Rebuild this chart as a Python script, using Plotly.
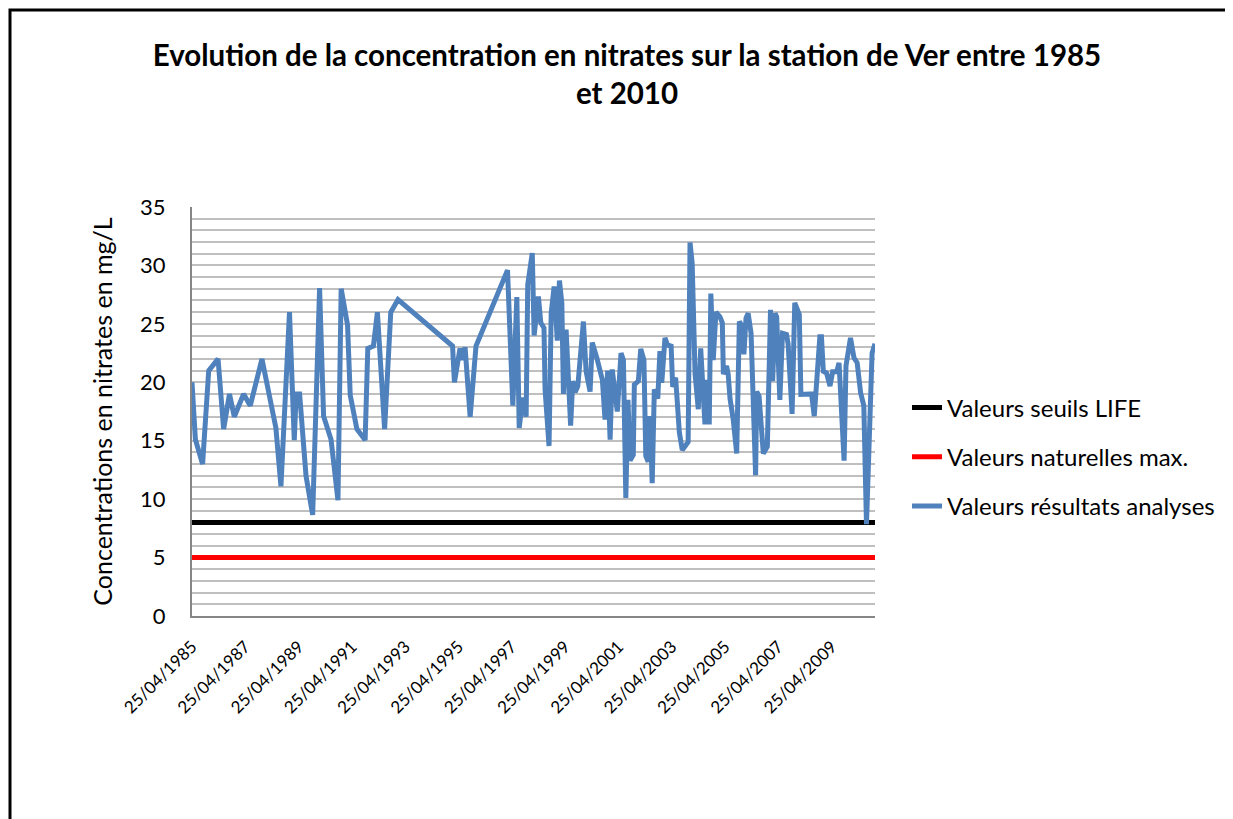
import pandas as pd
import plotly.graph_objects as go

# ---- data (decimal years, nitrate concentration mg/L) ----
sample_years = [
    1985.313, 1985.44, 1985.71, 1985.94, 1986.29, 1986.50, 1986.72, 1986.90, 1987.25, 1987.50,
    1987.94, 1988.46, 1988.65, 1988.97, 1989.15, 1989.22, 1989.35, 1989.59, 1989.84, 1990.10,
    1990.25, 1990.53, 1990.79, 1990.91, 1991.15, 1991.25, 1991.50, 1991.81, 1991.91, 1992.12,
    1992.27, 1992.54, 1992.77, 1993.04, 1995.09, 1995.16, 1995.37, 1995.46, 1995.56, 1995.75,
    1995.97, 1997.15, 1997.35, 1997.50, 1997.59, 1997.72, 1997.85, 1997.91, 1998.08, 1998.15,
    1998.31, 1998.40, 1998.52, 1998.56, 1998.71, 1998.79, 1998.90, 1999.02, 1999.10, 1999.19,
    1999.25, 1999.35, 1999.52, 1999.60, 1999.69, 1999.79, 2000.00, 2000.10, 2000.25, 2000.33,
    2000.50, 2000.71, 2000.81, 2000.91, 2001.00, 2001.08, 2001.27, 2001.41, 2001.50, 2001.59,
    2001.67, 2001.75, 2001.87, 2001.91, 2002.06, 2002.15, 2002.27, 2002.34, 2002.43, 2002.50,
    2002.58, 2002.66, 2002.79, 2002.87, 2002.94, 2003.06, 2003.15, 2003.29, 2003.35, 2003.46,
    2003.60, 2003.71, 2003.84, 2003.93, 2004.00, 2004.08, 2004.19, 2004.31, 2004.40, 2004.50,
    2004.56, 2004.65, 2004.72, 2004.78, 2004.87, 2004.97, 2005.12, 2005.21, 2005.25, 2005.37,
    2005.43, 2005.50, 2005.62, 2005.75, 2005.85, 2005.94, 2006.02, 2006.10, 2006.18, 2006.29,
    2006.46, 2006.50, 2006.59, 2006.75, 2006.90, 2007.02, 2007.10, 2007.19, 2007.25, 2007.37,
    2007.47, 2007.62, 2007.68, 2007.83, 2007.93, 2008.10, 2008.16, 2008.56, 2008.66, 2008.87,
    2008.93, 2009.00, 2009.12, 2009.25, 2009.35, 2009.50, 2009.59, 2009.78, 2009.85, 2010.02,
    2010.15, 2010.27, 2010.40, 2010.52, 2010.62, 2010.83, 2010.94,
]
nitrates = [
    20.0, 15.1, 13.0, 21.0, 22.0, 16.0, 19.0, 17.05, 19.0, 18.0,
    22.0, 16.1, 11.1, 26.0, 15.05, 19.0, 19.0, 12.0, 8.65, 28.07,
    17.1, 15.1, 9.9, 28.0, 24.9, 18.9, 16.0, 15.05, 22.9, 23.1,
    26.0, 16.0, 26.0, 27.07, 23.1, 20.0, 22.9, 21.9, 23.0, 17.05,
    23.1, 29.6, 18.0, 27.3, 16.1, 18.7, 17.05, 28.35, 31.05, 24.0,
    27.35, 25.1, 24.65, 19.4, 14.55, 25.9, 28.2, 23.57, 28.7, 26.8,
    19.0, 24.5, 16.3, 20.1, 19.15, 19.67, 25.2, 20.95, 19.2, 23.4,
    22.1, 20.2, 16.8, 21.0, 15.1, 21.1, 17.5, 22.5, 21.9, 10.1,
    18.5, 13.3, 13.8, 19.8, 20.1, 22.86, 21.9, 13.7, 13.2, 17.1,
    11.36, 19.4, 18.6, 22.66, 19.96, 23.8, 23.2, 23.1, 19.6, 20.4,
    15.7, 14.2, 14.6, 14.9, 31.96, 30.2, 20.7, 17.7, 22.9, 18.8,
    16.4, 20.2, 16.4, 27.6, 21.9, 26.0, 25.6, 25.1, 20.7, 21.4,
    20.7, 18.6, 16.8, 13.9, 25.2, 24.85, 22.4, 25.5, 25.9, 24.2,
    12.04, 19.2, 18.8, 13.9, 14.5, 26.2, 20.1, 25.9, 25.6, 18.5,
    24.2, 24.1, 23.3, 17.3, 26.8, 25.8, 18.96, 19.0, 17.1, 23.9,
    23.9, 20.95, 20.8, 19.67, 20.9, 20.9, 21.67, 13.3, 21.4, 23.8,
    22.1, 21.67, 19.1, 18.0, 7.86, 22.5, 23.3,
]
seuil_life = 8
naturelle_max = 5
tick_years = list(range(1985, 2011, 2))
tick_labels = [f"25/04/{y}" for y in tick_years]

series_names = ["Valeurs seuils LIFE", "Valeurs naturelles max.", "Valeurs résultats analyses"]
title_text = "Evolution de la concentration en nitrates sur la station de Ver entre 1985<br>et 2010"
y_title = "Concentrations en nitrates en mg/L"


def to_date(t):
    y = int(t)
    start = pd.Timestamp(year=y, month=1, day=1)
    end = pd.Timestamp(year=y + 1, month=1, day=1)
    return start + (t - y) * (end - start)


dates = [to_date(t) for t in sample_years]
dates[0] = pd.Timestamp("1985-04-25")
d0, d1 = dates[0], dates[-1]

FONT = "Lato, 'Open Sans', sans-serif"
BLUE = "#4F81BD"

fig = go.Figure()
fig.add_trace(go.Scatter(x=[d0, d1], y=[seuil_life, seuil_life], mode="lines",
                         line=dict(color="black", width=5), name=series_names[0],
                         legendgroup="g0"))
fig.add_trace(go.Scatter(x=[d0, d1], y=[naturelle_max, naturelle_max], mode="lines",
                         line=dict(color="#FF0000", width=5), name=series_names[1],
                         legendgroup="g1"))
fig.add_trace(go.Scatter(x=dates, y=nitrates, mode="lines",
                         line=dict(color=BLUE, width=5), name=series_names[2],
                         legendgroup="g2"))

# page body offset of the browser (8px) is compensated
OFF = 8
W, H = 1233, 819
L = 192 - OFF
T = 207 - OFF
R = W - (875 - OFF)
B = H - (616 - OFF)
pw, ph = W - L - R, H - T - B


def px_x(x):  # reference pixel -> paper x
    return (x - OFF - L) / pw


def px_y(y):  # reference pixel -> paper y
    return (H - B - (y - OFF)) / ph


fig.update_layout(
    width=W, height=H,
    margin=dict(l=L, r=R, t=T, b=B, pad=0),
    paper_bgcolor="white", plot_bgcolor="white",
    font=dict(family=FONT, color="black"),
    title=dict(text=f"<b>{title_text}</b>", x=(627 - OFF) / W, xanchor="center",
               y=1 - (66 - OFF) / H, yanchor="middle", yref="container",
               font=dict(size=29.5, family=FONT, color="black")),
    xaxis=dict(type="date", range=[d0, d1], tickmode="array",
               tickvals=[pd.Timestamp(f"{y}-04-25") for y in tick_years], ticktext=tick_labels,
               tickangle=-45, tickfont=dict(size=17), showgrid=False, zeroline=False,
               showline=True, linecolor="#868686", linewidth=2, ticks="",
               ticklabelstandoff=12),
    yaxis=dict(range=[0, 35], tick0=0, dtick=5, showgrid=True, gridcolor="#BFBFBF", gridwidth=2,
               minor=dict(dtick=1, showgrid=True, gridcolor="#BFBFBF", gridwidth=2),
               zeroline=False, showline=True, linecolor="#868686", linewidth=2, ticks="",
               tickfont=dict(size=22), ticklabelstandoff=20,
               title=dict(text=y_title, font=dict(size=25), standoff=20)),
    legend=dict(x=px_x(907), xanchor="left", y=px_y(457), yanchor="middle",
                font=dict(size=24), bgcolor="rgba(0,0,0,0)", tracegroupgap=15,
                itemwidth=30, traceorder="grouped"),
    showlegend=True,
)

# outer chart frame
fig.add_shape(type="rect", xref="paper", yref="paper",
              x0=px_x(10), x1=px_x(1229), y0=px_y(840), y1=px_y(10),
              line=dict(color="black", width=3), fillcolor="rgba(0,0,0,0)", layer="below")

fig.write_html("out.html")
